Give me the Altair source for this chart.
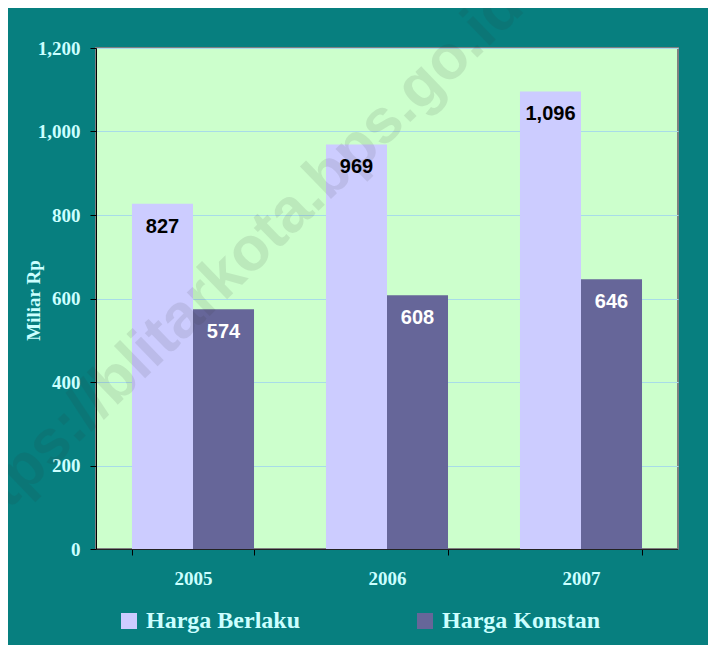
import altair as alt
import pandas as pd

years = ["2005", "2006", "2007"]
harga_berlaku = [827, 969, 1096]
harga_konstan = [574, 608, 646]
series = ["Harga Berlaku", "Harga Konstan"]
series_colors = ["#CCCCFF", "#666699"]
y_ticks = [0, 200, 400, 600, 800, 1000, 1200]
watermark = "https://blitarkota.bps.go.id"

rows = []
for i, yr in enumerate(years):
    rows.append({"Tahun": yr, "Seri": series[0], "Nilai": harga_berlaku[i]})
    rows.append({"Tahun": yr, "Seri": series[1], "Nilai": harga_konstan[i]})
df = pd.DataFrame(rows)

serif = "Liberation Serif"
light = "#CCFFFF"

x_enc = alt.X(
    "Tahun:N",
    sort=years,
    scale=alt.Scale(paddingInner=0.371, paddingOuter=0.1855),
    axis=alt.Axis(
        title=None, labelAngle=0, tickBand="extent", domainColor="#222222",
        tickColor="#000000", tickSize=6, labelFont=serif, labelFontSize=19,
        labelFontWeight="bold", labelColor=light, labelPadding=14, grid=False,
    ),
)
xo_enc = alt.XOffset("Seri:N", sort=series, scale=alt.Scale(paddingInner=0, paddingOuter=0))
y_enc = alt.Y(
    "Nilai:Q",
    scale=alt.Scale(domain=[0, 1200], nice=False),
    axis=alt.Axis(
        title="Miliar Rp", values=y_ticks, format=",d", domainColor="#000000",
        tickColor="#000000", tickSize=6, labelFont=serif, labelFontSize=19,
        labelFontWeight="bold", labelColor=light, labelPadding=10,
        gridColor="#A8DCE8", gridWidth=1, titleFont=serif, titleFontSize=19,
        titleFontWeight="bold", titleColor=light, titleAngle=270,
        titleX=-63, titleY=252, titleAlign="center", titleBaseline="middle",
    ),
)

bars = alt.Chart(df).mark_bar().encode(
    x=x_enc,
    xOffset=xo_enc,
    y=y_enc,
    color=alt.Color(
        "Seri:N",
        sort=series,
        scale=alt.Scale(domain=series, range=series_colors),
        legend=alt.Legend(
            title=None, orient="none", legendX=21, legendY=561, direction="horizontal",
            symbolType="square", symbolSize=256, symbolStrokeWidth=0,
            labelFont=serif, labelFontSize=24, labelFontWeight="bold",
            labelColor=light, columnPadding=113, labelOffset=5, padding=0,
        ),
    ),
)

wm = alt.Chart(pd.DataFrame({"t": [watermark]})).mark_text(
    font="Arial", fontSize=62, fontWeight="bold", angle=316,
    color="#303030", opacity=0.1, align="center", baseline="middle",
).encode(x=alt.value(137), y=alt.value(219), text="t:N")

labels = alt.Chart(df).mark_text(
    font="Arial", fontSize=20, fontWeight="bold", baseline="middle", dy=23,
).encode(
    x=alt.X("Tahun:N", sort=years),
    xOffset=alt.XOffset("Seri:N", sort=series),
    y=alt.Y("Nilai:Q"),
    text=alt.Text("Nilai:Q", format=",d"),
    color=alt.condition("datum.Seri == 'Harga Berlaku'", alt.value("#000000"), alt.value("#FFFFFF")),
)

chart = (
    alt.layer(bars, wm, labels)
    .properties(
        width=582, height=501,
        autosize=alt.AutoSizeParams(type="none"),
        padding={"left": 88, "top": 40, "right": 30, "bottom": 96},
    )
    .configure(background="#077F7F")
    .configure_view(fill="#CCFFCC", stroke="#808080", strokeWidth=2)
)

chart.save("out.html", embed_options={"renderer": "svg", "actions": False})
